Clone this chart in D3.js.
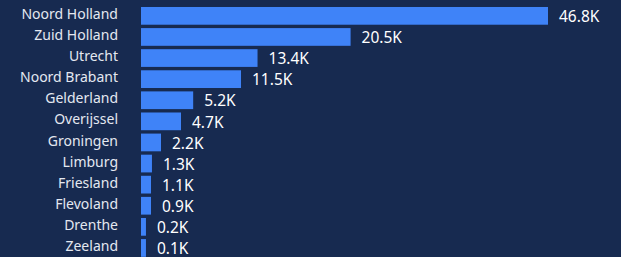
<!DOCTYPE html>
<html>
<head>
<meta charset="utf-8">
<script src="https://cdn.jsdelivr.net/npm/d3@7"></script>
<style>
  html, body { margin: 0; padding: 0; background: #172a50; overflow: hidden; }
  svg { display: block; }
</style>
</head>
<body>
<svg id="chart" width="621" height="257"></svg>
<script>
// Data
const provinces = ["Noord Holland", "Zuid Holland", "Utrecht", "Noord Brabant", "Gelderland", "Overijssel",
                   "Groningen", "Limburg", "Friesland", "Flevoland", "Drenthe", "Zeeland"];
// bar lengths in thousands, as drawn
const barValues = [46.8, 24.1, 13.4, 11.5, 6.0, 4.6, 2.3, 1.26, 1.15, 1.15, 0.57, 0.57];
// value labels as shown
const valueLabels = ["46.8K", "20.5K", "13.4K", "11.5K", "5.2K", "4.7K", "2.2K", "1.3K", "1.1K", "0.9K", "0.2K", "0.1K"];

const W = 621, H = 257;
const margin = { left: 141, right: 73, top: 5.3 };
const step = 21.1;

const svg = d3.select("#chart");
svg.append("rect").attr("width", W).attr("height", H).attr("fill", "#172a50");

const x = d3.scaleLinear().domain([0, d3.max(barValues)]).range([margin.left, W - margin.right]);
const y = d3.scaleBand().domain(provinces)
  .range([margin.top, margin.top + step * provinces.length])
  .paddingInner(0.16).paddingOuter(0.08);

const rows = provinces.map((p, i) => ({ p, v: barValues[i], label: valueLabels[i] }));

svg.append("g").selectAll("rect").data(rows).join("rect")
  .attr("x", x(0))
  .attr("y", d => y(d.p))
  .attr("width", d => x(d.v) - x(0))
  .attr("height", y.bandwidth())
  .attr("fill", "#3f83f8");

svg.append("g").selectAll("text").data(rows).join("text")
  .attr("x", x(0) - 23)
  .attr("y", d => y(d.p) + y.bandwidth() / 2)
  .attr("dy", "0.22em")
  .attr("text-anchor", "end")
  .attr("font-family", "'Noto Sans', 'Open Sans', sans-serif")
  .attr("font-size", 14)
  .attr("fill", "#e4e8f0")
  .text(d => d.p);

svg.append("g").selectAll("text").data(rows).join("text")
  .attr("x", d => x(d.v) + 11)
  .attr("y", d => y(d.p) + y.bandwidth() / 2)
  .attr("dy", "0.4em")
  .attr("font-family", "'Noto Sans', 'Open Sans', sans-serif")
  .attr("font-size", 15.5)
  .attr("fill", "#ffffff")
  .text(d => d.label);
</script>
</body>
</html>
